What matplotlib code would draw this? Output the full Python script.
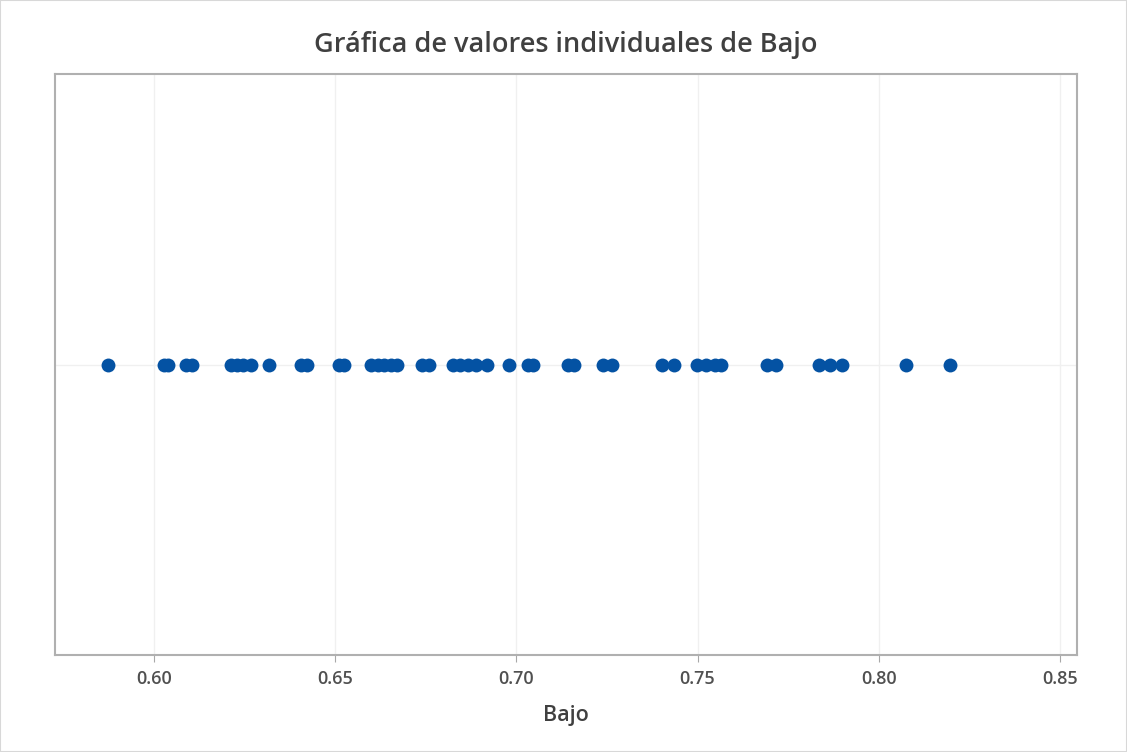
import matplotlib
matplotlib.use("Agg")
import matplotlib.pyplot as plt
import numpy as np

# Valores de la variable Bajo
bajo = [
    0.5872, 0.6028, 0.6039, 0.6088, 0.6104, 0.6212, 0.6230, 0.6246, 0.6269,
    0.6317, 0.6405, 0.6423, 0.6511, 0.6524, 0.6598, 0.6617, 0.6635, 0.6654,
    0.6671, 0.6740, 0.6759, 0.6824, 0.6844, 0.6867, 0.6890, 0.6918, 0.6979,
    0.7032, 0.7046, 0.7143, 0.7158, 0.7238, 0.7265, 0.7402, 0.7435, 0.7498,
    0.7524, 0.7547, 0.7566, 0.7692, 0.7717, 0.7835, 0.7866, 0.7898, 0.8076,
    0.8197,
]
ticks = [0.60, 0.65, 0.70, 0.75, 0.80, 0.85]

plt.rcParams["font.family"] = ["Open Sans", "DejaVu Sans"]

fig = plt.figure(figsize=(11.27, 7.52), dpi=100)
ax = fig.add_axes([55 / 1127, 97 / 752, 1022 / 1127, 581 / 752])

ax.plot(bajo, np.zeros(len(bajo)), "o", color="#0452a3", markersize=10,
        markeredgewidth=0, zorder=3)

ax.set_xlim(0.5727, 0.8547)
ax.set_ylim(-1, 1)
ax.set_xticks(ticks)
ax.set_xticklabels([f"{t:.2f}" for t in ticks], fontsize=13, color="#505050",
                   fontweight="semibold")
ax.set_yticks([0])
ax.tick_params(axis="y", length=0, labelleft=False)
ax.tick_params(axis="x", length=5, color="#a8a8a8", pad=6)

ax.grid(True, color="#f0f0f0", linewidth=1)
for s in ax.spines.values():
    s.set_color("#b0b0b0")
    s.set_linewidth(1.5)

ax.set_title("Gráfica de valores individuales de Bajo", fontsize=19.5,
             color="#404040", fontweight="semibold", pad=16)
ax.set_xlabel("Bajo", fontsize=15.5, color="#404040", fontweight="semibold",
              labelpad=12)

# marco exterior de la imagen
fig.patches.append(plt.Rectangle((0, 0), 1, 1, transform=fig.transFigure,
                                 fill=False, edgecolor="#d8d8d8", linewidth=1.5))

fig.savefig("out.png", dpi=100)
